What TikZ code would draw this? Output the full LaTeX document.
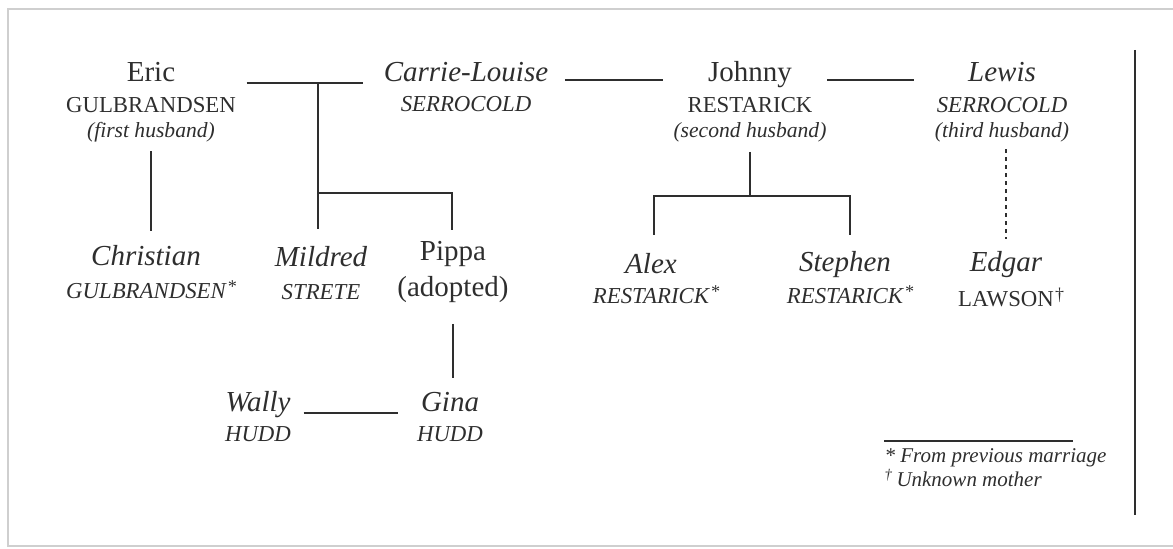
\documentclass[tikz,border=0pt]{standalone}
\usepackage{fontspec}
\setmainfont{Liberation Serif}
\usetikzlibrary{positioning}

\definecolor{ink}{HTML}{2E2E2E}
\definecolor{frame}{HTML}{CFCFCF}

\newcommand{\nameup}{\fontsize{14.5}{15}\selectfont}
\newcommand{\nameit}{\fontsize{14.5}{15}\selectfont\itshape}
\newcommand{\surup}{\fontsize{11.4}{12}\selectfont}
\newcommand{\surit}{\fontsize{11.4}{12}\selectfont\itshape}
\newcommand{\noteit}{\fontsize{10.8}{12}\selectfont\itshape}
\newcommand{\fnmark}[1]{\rlap{\kern0.6pt\raisebox{3.2pt}{\fontsize{9}{9}\selectfont #1}}}

\begin{document}
\begin{tikzpicture}[x=0.5pt, y=-0.5pt, line width=0.65pt, draw=ink,
    person/.style={align=center, inner sep=0pt, anchor=base, text=ink, font=\fontsize{11}{12}\selectfont}]
    \useasboundingbox (0,0) rectangle (1173,549);
    \draw[frame, line width=0.8pt] (1173,9) -- (8,9) -- (8,546) -- (1173,546);

    % First generation (base = last line)
    \node[person] (eric) at (151,138) {{\nameup Eric}\\[3.3pt]{\surup GULBRANDSEN}\\[0.8pt]{\noteit (first husband)}};
    \node[person] (carrie) at (466,112) {{\nameit Carrie-Louise}\\[3.3pt]{\surit SERROCOLD}};
    \node[person] (johnny) at (750,138) {{\nameup Johnny}\\[3.3pt]{\surup RESTARICK}\\[0.8pt]{\noteit (second husband)}};
    \node[person] (lewis) at (1002,138) {{\nameit Lewis}\\[3.3pt]{\surit SERROCOLD}\\[0.8pt]{\noteit (third husband)}};

    % Children
    \node[person] (christian) at (146,299) {{\nameit Christian}\\[4.5pt]{\surit GULBRANDSEN\fnmark{*}}};
    \node[person] (mildred) at (321,300) {{\nameit Mildred}\\[4.5pt]{\surit STRETE}};
    \node[person] (pippa) at (453,297) {{\nameup Pippa}\\[4pt]{\nameup (adopted)}};
    \node[person] (alex) at (651,304) {{\nameit Alex}\\[3.3pt]{\surit RESTARICK\fnmark{*}}};
    \node[person] (stephen) at (845,304) {{\nameit Stephen}\\[3.3pt]{\surit RESTARICK\fnmark{*}}};
    \node[person] (edgar) at (1006,307) {{\nameit Edgar}\\[4pt]{\surup LAWSON\fnmark{\textdagger}}};

    % Grandchild
    \node[person] (wally) at (258,442) {{\nameit Wally}\\[3pt]{\surit HUDD}};
    \node[person] (gina) at (450,442) {{\nameit Gina}\\[3pt]{\surit HUDD}};

    % Marriages
    \coordinate (m1) at (318,83);
    \coordinate (m0) at (0,80);
    \coordinate (m3) at (0,413);
    \draw[shorten <=5pt, shorten >=10pt] (eric.east |- m1) -- (carrie.west |- m1);
    \draw[shorten <=8pt, shorten >=5pt] (carrie.east |- m0) -- (johnny.west |- m0);
    \draw[shorten >=10pt] (johnny.east |- m0) -- (lewis.west |- m0);
    \draw[shorten <=6pt, shorten >=9pt] (wally.east |- m3) -- (gina.west |- m3);

    % Descent
    \coordinate (k1) at (318,193);
    \coordinate (m2) at (750,152);
    \coordinate (k2) at (750,196);
    \draw[shorten <=4pt, shorten >=7pt] (eric.south) -- (eric.south |- christian.north);
    \draw (m1) -- (m1 |- 0,229);
    \draw (k1) -| (452,230);
    \draw (m2) -- (k2);
    \draw (654,235) |- (k2) -| (850,235);
    \draw[dashed, dash pattern=on 2pt off 2pt, shorten <=3pt, shorten >=6pt] (lewis.south -| edgar) -- (edgar.north);
    \draw[shorten <=10pt, shorten >=7pt] (pippa.south) -- (gina.north -| pippa);

    % Notes
    \draw[line width=1pt] (1135,50) -- (1135,515);
    \draw (884,441) -- (1073,441);
    \node[person, align=left, anchor=base west, font=\fontsize{10.5}{11}\selectfont\itshape] (notes) at (884,487)
        {* From previous marriage\\\textsuperscript{\textdagger}\,Unknown mother};
\end{tikzpicture}
\end{document}
